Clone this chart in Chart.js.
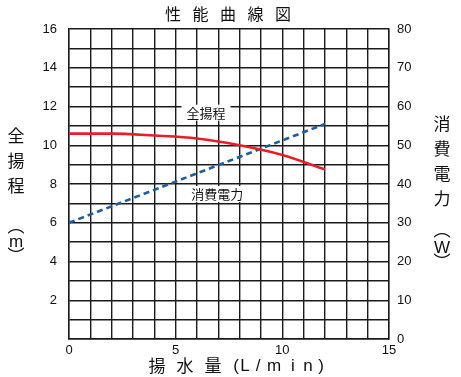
<!DOCTYPE html>
<html>
<head>
<meta charset="utf-8">
<script src="https://cdn.jsdelivr.net/npm/chart.js@4"></script>
<style>
  html, body { margin: 0; padding: 0; background: #fff; }
  #wrap { width: 461px; height: 377px; }
</style>
</head>
<body>
<div id="wrap"><canvas id="perfChart" width="461" height="377"></canvas></div>
<script>
// flow rate (L/min) and the values
const flow = [0, 2, 4, 6, 8, 10, 12];
const head = [10.6, 10.6, 10.5, 10.35, 10.0, 9.5, 8.75];   // m
const powerFlow = [0, 12];
const power = [30, 55.5];                                   // W

const xTicks = [0, 5, 10, 15];
const headTicks = [2, 4, 6, 8, 10, 12, 14, 16];
const powerTicks = [0, 10, 20, 30, 40, 50, 60, 70, 80];

const JP = '"Noto Sans CJK JP", "Noto Sans", sans-serif';
const NUM = '"Liberation Sans", Arial, sans-serif';

// titles, vertical axis names and the in-plot curve labels
const textPlugin = {
  id: "texts",
  afterDraw(chart) {
    const ctx = chart.ctx;
    const x = chart.scales.x, y = chart.scales.y;
    ctx.save();
    ctx.fillStyle = "#111";
    ctx.textAlign = "center";
    ctx.textBaseline = "middle";

    // title
    ctx.font = "16px " + JP;
    const title = ["性", "能", "曲", "線", "図"];
    title.forEach((c, i) => ctx.fillText(c, 173 + i * 27.5, 14));

    // x axis title
    ctx.font = "17px " + JP;
    ["揚", "水", "量"].forEach((c, i) => ctx.fillText(c, 157 + i * 28, 366));
    ctx.font = "17px " + NUM;
    const xt = ["(", "L", "/", "m", "i", "n", ")"];
    const xp = [236, 245, 258, 274, 293, 308, 321];
    xt.forEach((c, i) => ctx.fillText(c, xp[i], 366));

    // left axis title
    ctx.font = "17px " + JP;
    ["全", "揚", "程"].forEach((c, i) => ctx.fillText(c, 16, 136 + i * 25));
    ctx.fillText("︵", 16, 226);
    ctx.font = "17px " + NUM;
    ctx.fillText("m", 16, 242);
    ctx.font = "17px " + JP;
    ctx.fillText("︶", 16, 256);

    // right axis title
    ["消", "費", "電", "力"].forEach((c, i) => ctx.fillText(c, 442, 124 + i * 24.7));
    ctx.fillText("︵", 442, 230);
    ctx.font = "17px " + NUM;
    ctx.fillText("W", 442, 248);
    ctx.font = "17px " + JP;
    ctx.fillText("︶", 442, 262);

    // curve labels with white boxes
    ctx.font = "13px " + JP;
    const labels = [
      { t: "全揚程", fx: 6.42, fy: 11.68 },
      { t: "消費電力", fx: 6.95, fy: 7.48 }
    ];
    labels.forEach(l => {
      const px = x.getPixelForValue(l.fx);
      const py = y.getPixelForValue(l.fy);
      const w = ctx.measureText(l.t).width + 10;
      ctx.fillStyle = "#fff";
      ctx.fillRect(px - w / 2, py - 8, w, 16);
      ctx.fillStyle = "#111";
      ctx.fillText(l.t, px, py);
    });
    ctx.restore();
  }
};

const gridColor = "#1a1a1a";

new Chart(document.getElementById("perfChart"), {
  type: "line",
  data: {
    datasets: [
      {
        label: "全揚程",
        data: flow.map((f, i) => ({ x: f, y: head[i] })),
        borderColor: "#e3202c",
        borderWidth: 2.6,
        pointRadius: 0,
        cubicInterpolationMode: "monotone",
        yAxisID: "y"
      },
      {
        label: "消費電力",
        data: powerFlow.map((f, i) => ({ x: f, y: power[i] })),
        borderColor: "#1f5d9c",
        borderWidth: 2.6,
        borderDash: [6, 4],
        pointRadius: 0,
        yAxisID: "y1"
      }
    ]
  },
  options: {
    responsive: false,
    animation: false,
    layout: { padding: { top: 29, left: 0, right: 0, bottom: 0 } },
    plugins: {
      legend: { display: false },
      tooltip: { enabled: false }
    },
    scales: {
      x: {
        type: "linear",
        min: 0,
        max: 15,
        afterFit: s => { s.height = 38; },
        afterBuildTicks: s => {
          s.ticks = [];
          for (let v = 0; v <= 15; v++) s.ticks.push({ value: v });
        },
        grid: { color: gridColor, lineWidth: 1.4, drawTicks: false },
        border: { color: gridColor, width: 1.4 },
        ticks: {
          padding: 4,
          autoSkip: false,
          maxRotation: 0,
          color: "#111",
          font: { family: NUM, size: 13 },
          callback: v => (xTicks.includes(v) ? v : "")
        }
      },
      y: {
        position: "left",
        min: 0,
        max: 16,
        afterFit: s => { s.width = 69; },
        afterBuildTicks: s => {
          s.ticks = [];
          for (let v = 0; v <= 16; v++) s.ticks.push({ value: v });
        },
        grid: { color: gridColor, lineWidth: 1.4, drawTicks: false },
        border: { color: gridColor, width: 1.4 },
        ticks: {
          padding: 12,
          autoSkip: false,
          color: "#111",
          font: { family: NUM, size: 13 },
          callback: v => (headTicks.includes(v) ? v : "")
        }
      },
      y1: {
        position: "right",
        min: 0,
        max: 80,
        afterFit: s => { s.width = 72; },
        afterBuildTicks: s => {
          s.ticks = powerTicks.map(v => ({ value: v }));
        },
        grid: { display: false, drawTicks: false },
        border: { color: gridColor, width: 1.4 },
        ticks: {
          padding: 8,
          autoSkip: false,
          color: "#111",
          font: { family: NUM, size: 13 }
        }
      }
    }
  },
  plugins: [textPlugin]
});
</script>
</body>
</html>
